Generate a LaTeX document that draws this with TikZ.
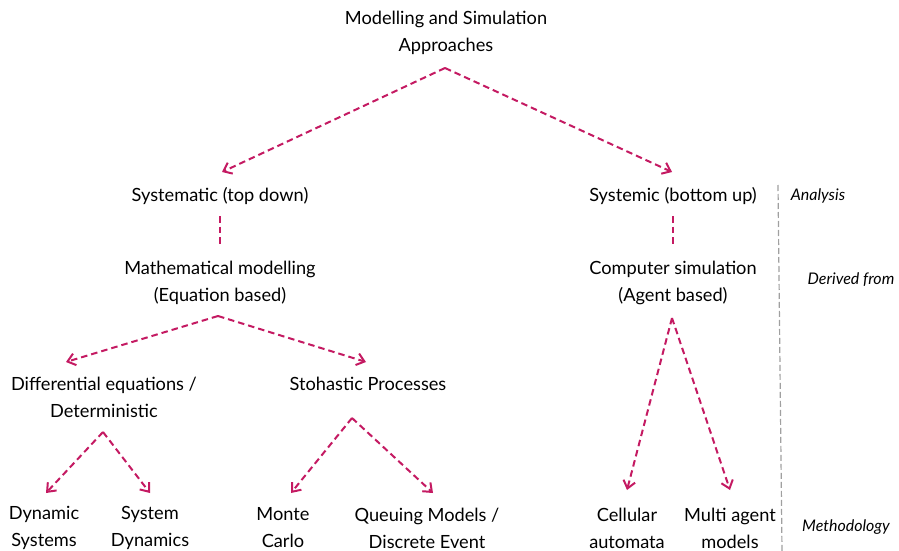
\documentclass[tikz,border=0pt]{standalone}
\usepackage{fontspec}
\setmainfont{Lato}
\usetikzlibrary{arrows.meta}
\definecolor{mag}{RGB}{196,26,98}
\definecolor{grayline}{RGB}{160,160,160}
\begin{document}
\begin{tikzpicture}[x=1pt,y=-1pt,
  lbl/.style={align=center,font=\fontsize{18.2}{27}\selectfont,inner sep=0pt},
  side/.style={font=\fontsize{16}{20}\selectfont\itshape,inner sep=0pt},
  arr/.style={draw=mag,line width=2pt,dash pattern=on 6.5pt off 4pt,-{Straight Barb[length=7.5pt,width=12pt,line width=2pt]}},
  link/.style={draw=mag,line width=2pt,dash pattern=on 6.5pt off 4pt}]
\useasboundingbox (0,0) rectangle (899,551);
% nodes
\node[lbl] (title) at (446,33) {Modelling and Simulation\\Approaches};
\node[lbl] (systematic) at (220,196) {Systematic (top down)};
\node[lbl] (systemic) at (673,196) {Systemic (bottom up)};
\node[lbl] (math) at (220,283) {Mathematical modelling\\(Equation based)};
\node[lbl] (comp) at (673,283) {Computer simulation\\(Agent based)};
\node[lbl] (diff) at (104,397) {Differential equations /\\Deterministic};
\node[lbl] (stoch) at (368,384) {Stohastic Processes};
\node[lbl] (dyn) at (44,528) {Dynamic\\Systems};
\node[lbl] (sysdyn) at (150,528) {System\\Dynamics};
\node[lbl] (monte) at (283,528) {Monte\\Carlo};
\node[lbl] (queue) at (427,528) {Queuing Models /\\Discrete Event};
\node[lbl] (cell) at (627,528) {Cellular\\automata};
\node[lbl] (multi) at (730,528) {Multi agent\\models};
\node[side] (analysis) at (818,196) {Analysis};
\node[side] (derived) at (851,280) {Derived from};
\node[side] (method) at (846,527) {Methodology};
% anchor coordinates
\coordinate (tA) at (445,68);
\coordinate (tL) at (222,172);
\coordinate (tR) at (672,172);
\coordinate (s1) at (220,216);
\coordinate (s2) at (220,246);
\coordinate (r1) at (673,216);
\coordinate (r2) at (673,246);
\coordinate (mA) at (218,316);
\coordinate (mL) at (66,362);
\coordinate (mR) at (366,362);
\coordinate (dA) at (103,432);
\coordinate (dL) at (46,493);
\coordinate (dR) at (150,493);
\coordinate (pA) at (352,418);
\coordinate (pL) at (291,493);
\coordinate (pR) at (433,493);
\coordinate (cA) at (672,318);
\coordinate (cL) at (627,490);
\coordinate (cR) at (730,490);
\coordinate (g1) at (778,185);
\coordinate (g2) at (782,551);
% connectors
\draw[arr] (tA) -- (tL);
\draw[arr] (tA) -- (tR);
\draw[link] (s1) -- (s2);
\draw[link] (r1) -- (r2);
\draw[arr] (mA) -- (mL);
\draw[arr] (mA) -- (mR);
\draw[arr] (dA) -- (dL);
\draw[arr] (dA) -- (dR);
\draw[arr] (pA) -- (pL);
\draw[arr] (pA) -- (pR);
\draw[arr] (cA) -- (cL);
\draw[arr] (cA) -- (cR);
\draw[grayline,line width=1.2pt,dash pattern=on 6pt off 3pt] (g1) -- (g2);
\end{tikzpicture}
\end{document}
